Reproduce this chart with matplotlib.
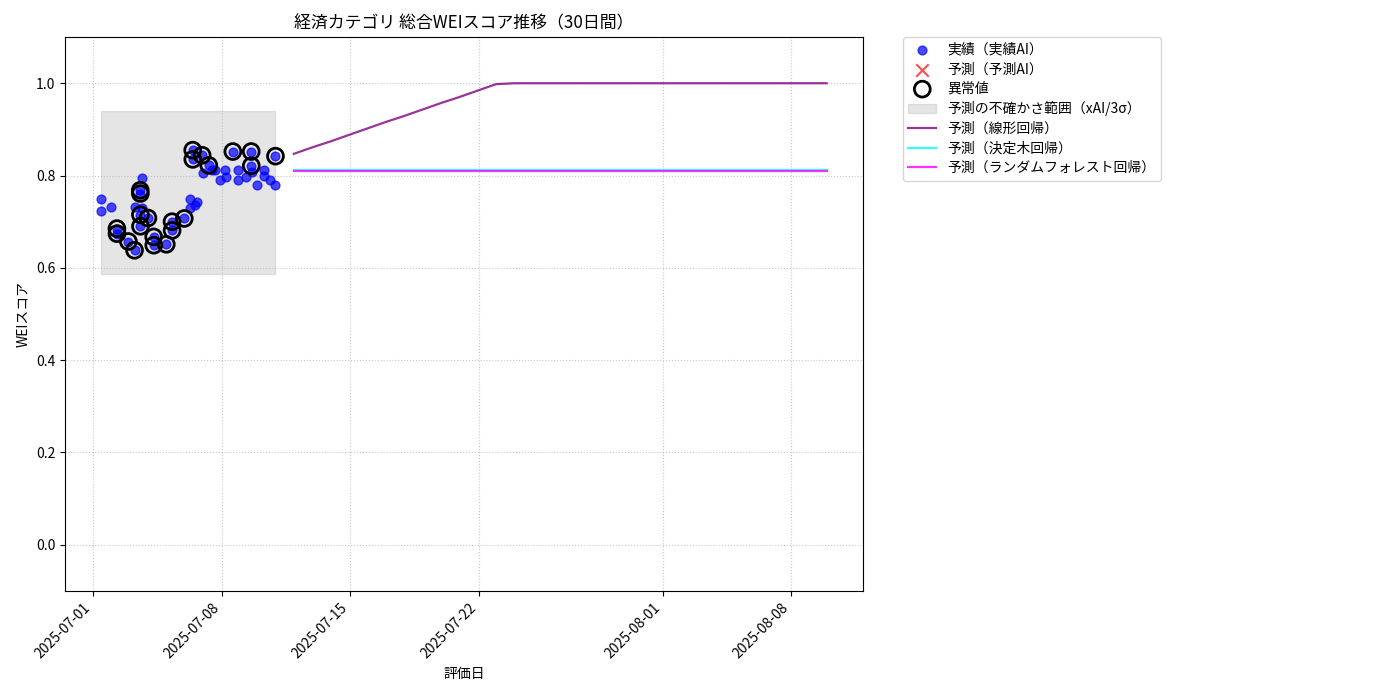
import matplotlib
matplotlib.use("Agg")
import matplotlib.pyplot as plt
import pandas as pd

plt.rcParams['font.family'] = ['Noto Sans CJK JP', 'DejaVu Sans']

# Observed (実績AI)
obs_dates = [
    "2025-07-01 10:30", "2025-07-01 10:35", "2025-07-01 23:30",
    "2025-07-02 07:00", "2025-07-02 07:05", "2025-07-02 22:00",
    "2025-07-03 06:00", "2025-07-03 06:05", "2025-07-03 13:30", "2025-07-03 13:35",
    "2025-07-03 13:40", "2025-07-03 13:45", "2025-07-03 15:30", "2025-07-03 15:35",
    "2025-07-03 23:30", "2025-07-04 07:00", "2025-07-04 07:05", "2025-07-04 23:30",
    "2025-07-05 07:00", "2025-07-05 07:05", "2025-07-05 23:00",
    "2025-07-06 07:00", "2025-07-06 07:05", "2025-07-06 10:00", "2025-07-06 10:05",
    "2025-07-06 13:12", "2025-07-06 15:00", "2025-07-06 22:20", "2025-07-06 23:30",
    "2025-07-07 07:00", "2025-07-07 11:15", "2025-07-07 15:30", "2025-07-07 21:36",
    "2025-07-08 04:48", "2025-07-08 06:00", "2025-07-08 14:24", "2025-07-08 21:36",
    "2025-07-08 21:40", "2025-07-09 07:12", "2025-07-09 14:24", "2025-07-09 14:30",
    "2025-07-09 15:36", "2025-07-09 21:36", "2025-07-10 06:30", "2025-07-10 06:35",
    "2025-07-10 14:24", "2025-07-10 22:05", "2025-07-10 22:06",
]
obs_values = [
    0.750, 0.724, 0.731,
    0.685, 0.674, 0.657,
    0.638, 0.732, 0.768, 0.761,
    0.715, 0.690, 0.795, 0.730,
    0.708, 0.667, 0.649, 0.651,
    0.700, 0.681, 0.707,
    0.750, 0.730, 0.855, 0.835,
    0.737, 0.743, 0.844, 0.806,
    0.822, 0.811, 0.811, 0.790,
    0.811, 0.797, 0.852, 0.811,
    0.790, 0.797, 0.852, 0.821,
    0.808, 0.780, 0.811, 0.800,
    0.790, 0.780, 0.842,
]

# Anomalies (異常値)
anom_dates = [
    "2025-07-02 07:00", "2025-07-02 07:05", "2025-07-02 22:00", "2025-07-03 06:00",
    "2025-07-03 13:30", "2025-07-03 13:35", "2025-07-03 13:40", "2025-07-03 13:45",
    "2025-07-03 23:30", "2025-07-04 07:00", "2025-07-04 07:05", "2025-07-04 23:30",
    "2025-07-05 07:00", "2025-07-05 07:05", "2025-07-05 23:00",
    "2025-07-06 10:00", "2025-07-06 10:05", "2025-07-06 22:20", "2025-07-07 07:00",
    "2025-07-08 14:24", "2025-07-09 14:24", "2025-07-09 14:30", "2025-07-10 22:06",
]
anom_values = [
    0.685, 0.674, 0.657, 0.638,
    0.768, 0.761, 0.715, 0.690,
    0.708, 0.667, 0.649, 0.651,
    0.700, 0.681, 0.707,
    0.855, 0.835, 0.844, 0.822,
    0.852, 0.852, 0.821, 0.842,
]

# Uncertainty band (xAI / 3σ)
band_lower = 0.586
band_upper = 0.939

# Forecasts (30 days)
forecast_start = "2025-07-11 22:05"
forecast_days = 30
linear_pred = [0.847, 0.861, 0.874, 0.888, 0.902, 0.916, 0.929, 0.943, 0.957, 0.970,
               0.984, 0.998, 1.0, 1.0, 1.0, 1.0, 1.0, 1.0, 1.0, 1.0,
               1.0, 1.0, 1.0, 1.0, 1.0, 1.0, 1.0, 1.0, 1.0, 1.0]
tree_pred = [0.813] * 30
forest_pred = [0.810] * 30

obs_dt = pd.to_datetime(obs_dates)
anom_dt = pd.to_datetime(anom_dates)
fc_dt = pd.date_range(forecast_start, periods=forecast_days, freq="D")

fig = plt.figure(figsize=(14, 7), dpi=100)
ax = fig.add_axes([0.0464, 0.156, 0.5700, 0.791])

ax.scatter(obs_dt, obs_values, color="blue", alpha=0.7, s=40, label="実績（実績AI）", zorder=3)
ax.scatter([], [], color="red", marker="x", alpha=0.7, s=80, label="予測（予測AI）")
ax.scatter(anom_dt, anom_values, facecolors="none", edgecolors="black", s=130,
           linewidths=2, label="異常値", zorder=4)
ax.fill_between(obs_dt, [band_lower] * len(obs_dt), [band_upper] * len(obs_dt),
                color="gray", alpha=0.2, label="予測の不確かさ範囲（xAI/3σ）")
ax.plot(fc_dt, linear_pred, color="purple", alpha=0.8, lw=1.6, label="予測（線形回帰）")
ax.plot(fc_dt, tree_pred, color="cyan", alpha=0.8, lw=1.6, label="予測（決定木回帰）")
ax.plot(fc_dt, forest_pred, color="magenta", alpha=0.8, lw=1.6, label="予測（ランダムフォレスト回帰）")

ax.set_ylim(-0.1, 1.1)
ax.set_title("経済カテゴリ 総合WEIスコア推移（30日間）", fontsize=12.2)
ax.set_xlabel("評価日", fontsize=10)
ax.set_ylabel("WEIスコア", fontsize=10)
ax.grid(True, linestyle=":", alpha=0.7)
for lbl in ax.get_xticklabels():
    lbl.set_rotation(45)
    lbl.set_ha("right")
ax.legend(loc="upper left", bbox_to_anchor=(1.05, 1.0), fontsize=10, borderaxespad=0.,
          labelspacing=0.4)

fig.savefig("out.png", dpi=100)
